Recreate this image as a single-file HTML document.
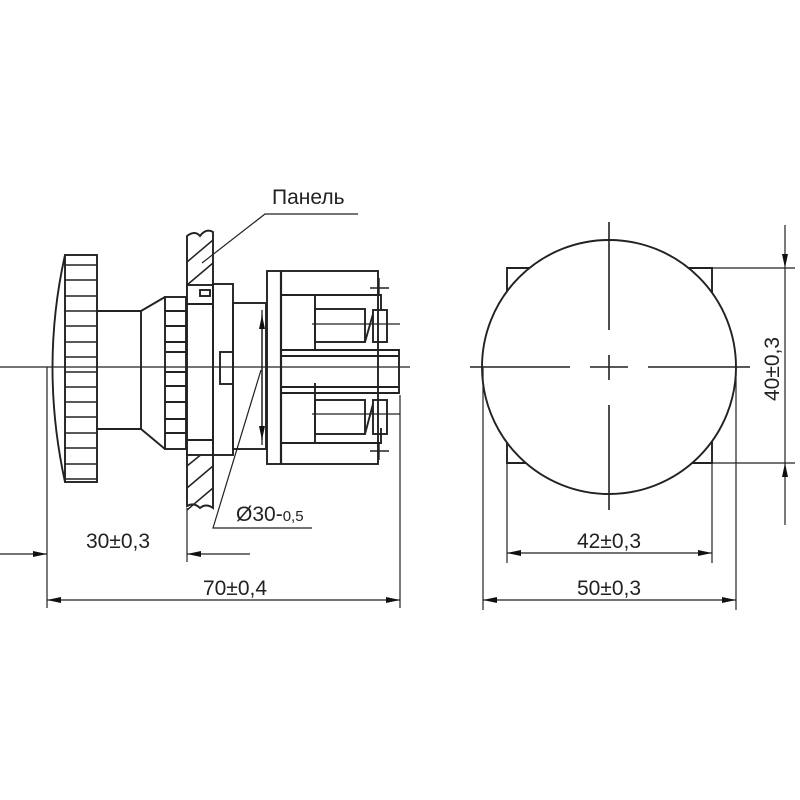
<!DOCTYPE html>
<html><head><meta charset="utf-8"><style>
html,body{margin:0;padding:0;background:#fff;}
svg{display:block;}
text{font-family:"Liberation Sans","DejaVu Sans",sans-serif;fill:#222;}
</style></head><body>
<svg width="800" height="800" viewBox="0 0 800 800" xmlns="http://www.w3.org/2000/svg">
<defs>
<marker id="a" viewBox="0 0 14 6" refX="14" refY="3" markerWidth="14" markerHeight="6" orient="auto-start-reverse" markerUnits="userSpaceOnUse"><path d="M0,0 L14,3 L0,6 Z" fill="#111"/></marker>
</defs>
<g fill="none" stroke="#222" stroke-width="1.9">
<!-- knob -->
<rect x="65" y="255" width="32" height="227"/>
<path d="M65,255 Q40,367 65,482"/>
<g stroke-width="1.6">
<path d="M65,265H97M65,280H97M65,296H97M65,311H97M65,326H97M65,342H97M65,357H97M65,372H97M65,387H97M65,402H97M65,417H97M65,433H97M65,448H97M65,464H97M65,479H97"/>
</g>
<!-- stem -->
<path d="M97,311H141V429H97"/>
<path d="M141,311L165,297M141,429L165,449"/>
<rect x="165" y="297" width="21" height="152"/>
<path d="M165,311H186M165,326H186M165,342H186M165,352H186M165,372H186M165,386H186M165,402H186M165,419H186M165,433H186"/>
<!-- panel -->
<path d="M187,236 Q195,230 200,236 Q206,228 213,232 V508 Q206,503 200,508 Q194,502 187,506 Z"/>
<g stroke-width="1.5">
<path d="M187,262L213,240M187,285L213,263M187,510L213,488M187,488L213,466M187,466L208,449"/>
</g>
<rect x="187" y="285" width="26" height="170" fill="#fff"/>
<rect x="200" y="290" width="10" height="6"/>
<path d="M187,304H213M187,440H213"/>
<!-- flange -->
<rect x="213" y="284" width="20" height="171"/>
<rect x="220" y="352" width="13" height="32"/>
<rect x="233" y="303" width="33" height="146"/>
<path d="M262,310V445" stroke-width="1.3"/>
<!-- body -->
<rect x="267" y="271" width="111" height="193"/>
<path d="M281,271V464" stroke-width="2.2"/>
<path d="M282,295H381V310M282,443H381V428"/>
<path d="M315,295V350M315,383V443"/>
<rect x="315" y="309" width="50" height="33"/>
<rect x="373" y="310" width="14" height="32"/>
<path d="M365,342L373,314"/>
<rect x="315" y="400" width="50" height="34"/>
<rect x="373" y="400" width="14" height="34"/>
<path d="M365,434L373,404"/>
<path d="M282,350H399V393H282M282,356H399M282,387H399"/>
<path d="M370,288H389M379,278V295M370,451H389M379,443V460" stroke-width="1.4"/>
<path d="M312,324H400M312,414H400" stroke-width="1.3"/>
<!-- center line -->
<path d="M0,367H410" stroke-width="1.3"/>
<!-- Ø arrows -->
<path d="M262,315V440" marker-start="url(#a)" marker-end="url(#a)" stroke-width="1.3"/>
<path d="M261,370L213,528H312" stroke-width="1.2"/>
<!-- panel leader -->
<path d="M202,263L265,214H358" stroke-width="1.2"/>
<!-- dims left -->
<path d="M47,367V608M187,508V562M400,395V608" stroke-width="1.2"/>
<path d="M0,554H47" marker-end="url(#a)" stroke-width="1.2"/>
<path d="M250,554H187" marker-end="url(#a)" stroke-width="1.2"/>
<path d="M47,600H400" marker-start="url(#a)" marker-end="url(#a)" stroke-width="1.2"/>
<!-- right view -->
<path d="M507,268H712V463H507Z"/>
<circle cx="609" cy="367" r="127" fill="#fff"/>
<path d="M609,222V330M609,355V380M609,405V510M470,367H570M590,367H628M648,367H750" stroke-width="1.6"/>
<path d="M712,268H795M712,463H795" stroke-width="1.2"/>
<path d="M785,225V268" marker-end="url(#a)" stroke-width="1.2"/>
<path d="M785,268V463" stroke-width="1.2"/>
<path d="M785,525V463" marker-end="url(#a)" stroke-width="1.2"/>
<path d="M507,463V563M712,463V563M483,367V610M736,367V610" stroke-width="1.2"/>
<path d="M507,553H712" marker-start="url(#a)" marker-end="url(#a)" stroke-width="1.2"/>
<path d="M483,600H736" marker-start="url(#a)" marker-end="url(#a)" stroke-width="1.2"/>
</g>
<text x="272" y="204" font-size="21">Панель</text>
<text x="236" y="521" font-size="21">Ø30-<tspan font-size="15">0,5</tspan></text>
<text x="118" y="548" font-size="21" text-anchor="middle">30±0,3</text>
<text x="235" y="595" font-size="21" text-anchor="middle">70±0,4</text>
<text x="609" y="548" font-size="21" text-anchor="middle">42±0,3</text>
<text x="609" y="595" font-size="21" text-anchor="middle">50±0,3</text>
<text x="0" y="0" font-size="21" text-anchor="middle" transform="translate(779,369) rotate(-90)">40±0,3</text>
</svg>
</body></html>
